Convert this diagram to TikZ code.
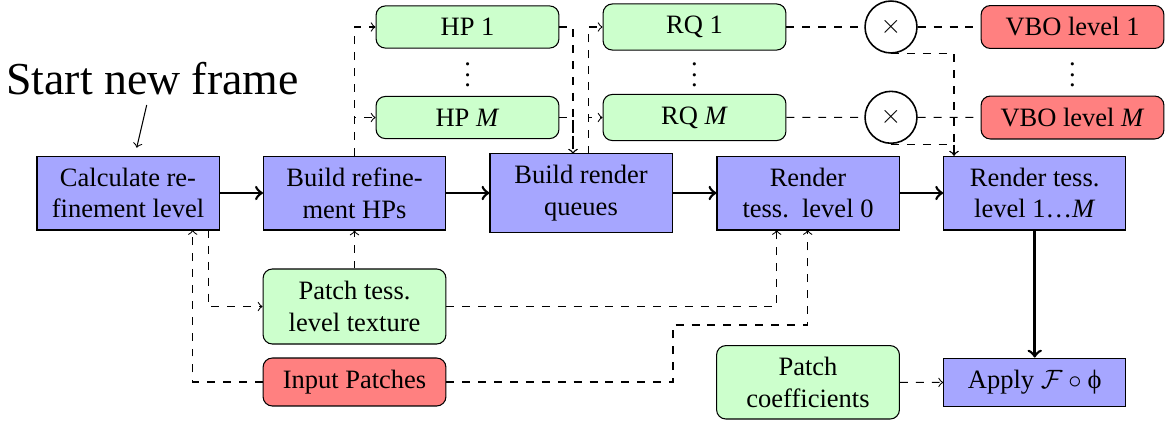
\documentclass[tikz,border=0pt]{standalone}
\usepackage{fontspec}
\setmainfont{Liberation Serif}
\begin{document}
\begin{tikzpicture}[x=0.37736pt,y=-0.37736pt,
  font=\fontsize{10}{12}\selectfont,
  proc/.style={draw, fill=blue!35, minimum width=68.7pt, minimum height=27.9pt, inner sep=2pt, align=center},
  data/.style={draw, fill=green!20, rounded corners=3.5pt, minimum width=69pt, inner sep=2pt, align=center},
  res/.style={draw, fill=red!50, rounded corners=3.5pt, minimum width=69pt, inner sep=2pt, align=center},
  mult/.style={draw, circle, semithick, minimum size=19.6pt, inner sep=0pt},
  dots/.style={inner sep=0pt},
  flow/.style={->, line width=1pt},
  dep/.style={->, dashed},
  link/.style={dashed}
]
\useasboundingbox (0,0) rectangle (1171,423);

% main row
\node[proc] (calc) at (128,193) {Calculate re-\\finement level};
\node[proc] (hps) at (354.5,193) {Build refine-\\ment HPs};
\node[proc, minimum height=29.8pt] (rqb) at (581,193) {Build render\\queues};
\node[proc] (r0) at (808,193) {Render\\tess.\ \ level 0};
\node[proc] (r1) at (1034.7,193) {Render tess.\\level 1\dots\textit{M}};
\node[proc, minimum height=18.4pt] (apply) at (1034.7,382.5) {Apply $\mathcal{F}\circ\hbox{ϕ}$};

% top row
\node[data, minimum height=15.9pt] (hp1) at (467.5,27) {HP 1};
\node[data, minimum height=15.9pt] (hpM) at (467.5,117.5) {HP \textit{M}};
\node[dots] (hpd) at (467.7,67) {$\vdots$};
\node[data, minimum height=17.4pt] (rq1) at (694.5,27) {RQ 1};
\node[data, minimum height=17.4pt] (rqM) at (694.5,117.5) {RQ \textit{M}};
\node[dots] (rqd) at (694.3,67) {$\vdots$};
\node[mult] (c1) at (891,27) {$\times$};
\node[mult] (c2) at (891,117.3) {$\times$};
\node[res, minimum height=16.2pt] (vbo1) at (1072.5,27) {VBO level 1};
\node[res, minimum height=16.2pt] (vboM) at (1072.5,117.5) {VBO level \textit{M}};
\node[dots] (vbod) at (1072.3,67) {$\vdots$};

% bottom
\node[data, minimum height=28.3pt] (ptex) at (354.5,306.5) {Patch tess.\\level texture};
\node[res, minimum height=18.1pt] (input) at (354.5,382) {Input Patches};
\node[data, minimum height=27.7pt] (pcoef) at (808,382.3) {Patch\\coefficients};

% start label
\node[anchor=base, font=\fontsize{17.28}{20}\selectfont] (start) at (152.5,94) {Start new frame};
\coordinate (sa) at (146.7,105);
\coordinate (sb) at (136.7,147.7);
\draw[->] (sa) -- (sb);

% main flow
\draw[flow] (calc) -- (hps);
\draw[flow] (hps) -- (rqb);
\draw[flow] (rqb) -- (r0);
\draw[flow] (r0) -- (r1);
\draw[flow] (r1) -- (apply);

% helper coordinates
\coordinate (rqin) at (573,153.7);
\coordinate (rqout) at (588.3,153.7);
\coordinate (r1in) at (954,155.7);
\coordinate (cdown) at (208.3,230);
\coordinate (cup) at (192.7,230);
\coordinate (r0a) at (776.7,230);
\coordinate (r0b) at (807.7,230);
\coordinate (kink) at (673,325);

% HP
\draw[dep] (hps.north) |- (hp1.west);
\draw[dep] (hps.north) |- (hpM.west);
\draw[dep] (hp1.east) -| (rqin);
\draw[dep] (hpM.east) -| (rqin);
% RQ
\draw[dep] (rqout) |- (rq1.west);
\draw[dep] (rqout) |- (rqM.west);
\draw[link] (rq1) -- (c1);
\draw[link] (c1) -- (vbo1);
\draw[link] (rqM) -- (c2);
\draw[link] (c2) -- (vboM);
\draw[dep] (c1.south) -| (r1in);
\draw[dep] (c2.south) -| (r1in);

% bottom connectors
\draw[dep] (cdown) |- (ptex.west);
\draw[dep] (input.west) -| (cup);
\draw[dep] (ptex.north) -- (hps.south);
\draw[dep] (ptex.east) -| (r0a);
\draw[dep] (input.east) -| (kink) -| (r0b);
\draw[dep] (pcoef) -- (apply);
\end{tikzpicture}
\end{document}
